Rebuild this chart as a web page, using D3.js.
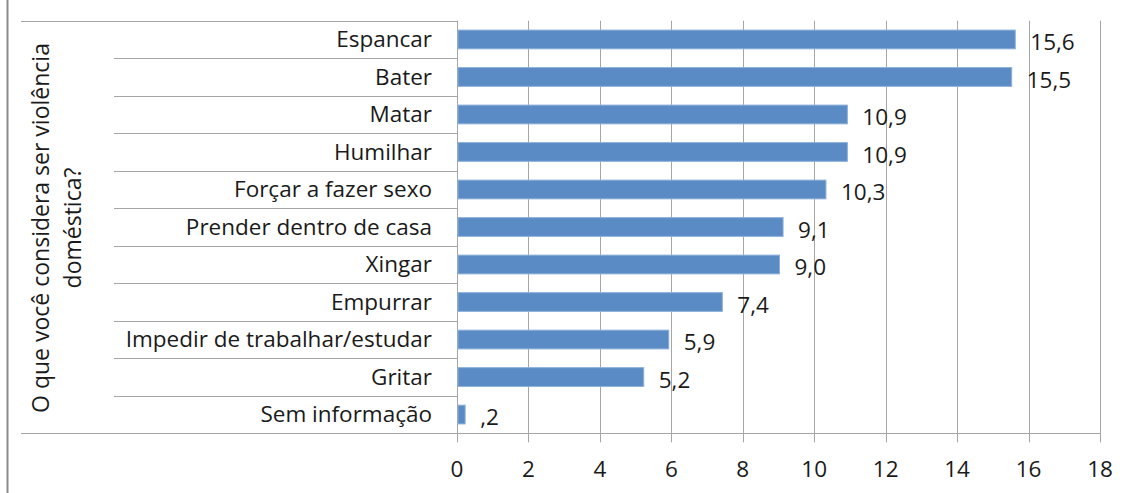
<!DOCTYPE html>
<html>
<head>
<meta charset="utf-8">
<script src="https://cdn.jsdelivr.net/npm/d3@7"></script>
<style>
  body { margin: 0; background: #fff; }
  svg text { font-family: "Open Sans", "Liberation Sans", sans-serif; fill: #1a1a1a; font-size: 22.5px; }
</style>
</head>
<body>
<div id="chart"></div>
<script>
// categorias e valores (%)
var categories = ["Espancar", "Bater", "Matar", "Humilhar", "Forçar a fazer sexo",
  "Prender dentro de casa", "Xingar", "Empurrar", "Impedir de trabalhar/estudar",
  "Gritar", "Sem informação"];
var values = [15.6, 15.5, 10.9, 10.9, 10.3, 9.1, 9.0, 7.4, 5.9, 5.2, 0.2];
var xTicks = [0, 2, 4, 6, 8, 10, 12, 14, 16, 18];
var titleLines = ["O que você considera ser violência", "doméstica?"];

var width = 1129, height = 493;
var plot = {left: 457, right: 1100, top: 20.7, bottom: 433.3};
var gridColor = "#a6a6a6";

var svg = d3.select("#chart").append("svg")
    .attr("width", width)
    .attr("height", height);

var x = d3.scaleLinear().domain([0, 18]).range([plot.left, plot.right]);
var y = d3.scaleBand().domain(categories)
    .range([plot.top, plot.bottom])
    .paddingInner(0.5)
    .paddingOuter(0.25);

// borda esquerda do gráfico
svg.append("line")
    .attr("x1", 7.5).attr("x2", 7.5)
    .attr("y1", 0).attr("y2", height)
    .attr("stroke", "#8c8c8c")
    .attr("stroke-width", 2);

// linhas verticais de grade (com o traço abaixo do eixo)
svg.selectAll(".grid")
    .data(xTicks)
    .enter().append("line")
    .attr("class", "grid")
    .attr("x1", function(d) { return Math.round(x(d)) + 0.5; })
    .attr("x2", function(d) { return Math.round(x(d)) + 0.5; })
    .attr("y1", plot.top)
    .attr("y2", plot.bottom + 9)
    .attr("stroke", gridColor);

// linhas da tabela de categorias
var sep = [];
for (var i = 1; i < categories.length; i++) {
    sep.push(y(categories[i]) - y.step() * y.paddingInner() / 2);
}
svg.selectAll(".sep")
    .data(sep)
    .enter().append("line")
    .attr("class", "sep")
    .attr("x1", 114).attr("x2", plot.left)
    .attr("y1", function(d) { return Math.round(d) + 0.5; })
    .attr("y2", function(d) { return Math.round(d) + 0.5; })
    .attr("stroke", gridColor);

svg.append("line")
    .attr("x1", 21).attr("x2", plot.left)
    .attr("y1", Math.round(plot.top) + 0.5).attr("y2", Math.round(plot.top) + 0.5)
    .attr("stroke", gridColor);

svg.append("line")
    .attr("x1", 21).attr("x2", plot.right + 0.5)
    .attr("y1", Math.round(plot.bottom) + 0.5).attr("y2", Math.round(plot.bottom) + 0.5)
    .attr("stroke", gridColor);

// barras
svg.selectAll(".bar")
    .data(values)
    .enter().append("rect")
    .attr("class", "bar")
    .attr("x", x(0) + 1)
    .attr("y", function(d, i) { return y(categories[i]); })
    .attr("width", function(d) { return x(d) - x(0); })
    .attr("height", y.bandwidth())
    .attr("fill", "#5b8bc5")
    .attr("stroke", "#8cb0da")
    .attr("stroke-width", 1);

// rótulos das categorias
svg.selectAll(".cat")
    .data(categories)
    .enter().append("text")
    .attr("class", "cat")
    .attr("x", 432)
    .attr("y", function(d) { return y(d) + y.bandwidth() / 2; })
    .attr("dy", "0.35em")
    .style("text-anchor", "end")
    .text(function(d) { return d; });

// rótulos dos valores, com vírgula decimal
function fmt(v) {
    var s = d3.format(".1f")(v).replace(".", ",");
    if (v < 1) s = s.slice(1);
    return s;
}
svg.selectAll(".val")
    .data(values)
    .enter().append("text")
    .attr("class", "val")
    .attr("x", function(d) { return x(d) + 16; })
    .attr("y", function(d, i) { return y(categories[i]) + y.bandwidth() / 2 + 3; })
    .attr("dy", "0.35em")
    .text(fmt);

// rótulos do eixo x
svg.selectAll(".tick-label")
    .data(xTicks)
    .enter().append("text")
    .attr("class", "tick-label")
    .attr("x", function(d) { return x(d); })
    .attr("y", 469)
    .attr("dy", "0.35em")
    .style("text-anchor", "middle")
    .text(function(d) { return d; });

// título do eixo y (duas linhas)
svg.selectAll(".ytitle")
    .data(titleLines)
    .enter().append("text")
    .attr("class", "ytitle")
    .attr("transform", function(d, i) {
        return "translate(" + (41 + i * 32) + ",228) rotate(-90)";
    })
    .attr("dy", "0.35em")
    .style("text-anchor", "middle")
    .style("font-size", "23px")
    .text(function(d) { return d; });
</script>
</body>
</html>
